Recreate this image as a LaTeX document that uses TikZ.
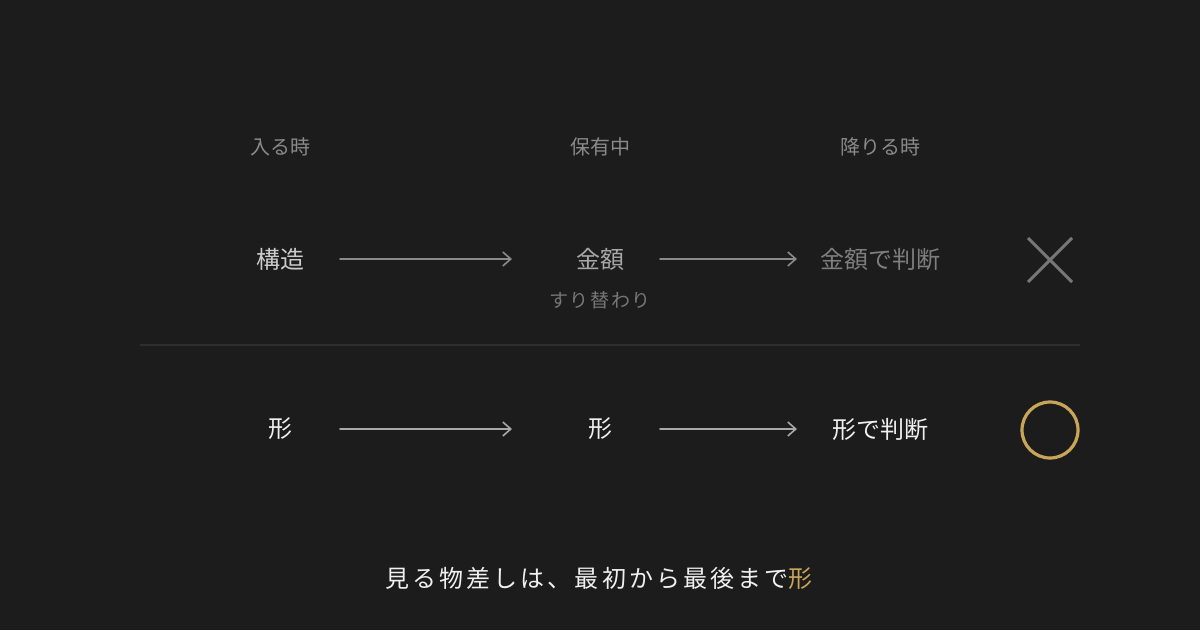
\documentclass[tikz,border=0pt]{standalone}
\usepackage{fontspec}
\setmainfont{Noto Sans CJK JP}
\usepackage{tikz}
\usetikzlibrary{positioning,backgrounds,arrows.meta}
\definecolor{sumi}{HTML}{1C1C1C}
\definecolor{haiiro}{HTML}{8A8A8A}
\definecolor{usuzumi}{HTML}{777777}
\definecolor{gin}{HTML}{A8A8A8}
\definecolor{shiro}{HTML}{F0F0F0}
\definecolor{kin}{HTML}{C9A55A}
\definecolor{sen}{HTML}{2E2E2E}

\begin{document}
\begin{tikzpicture}[x=1pt,y=-1pt]
                \tikzset{
                  moji/.style={inner sep=0pt,anchor=center,font=\fontsize{24}{28}\selectfont},
                  midashi/.style={moji,text=haiiro,font=\fontsize{20}{24}\selectfont},
                  yajirushi/.style={
                    line cap=round,-{Straight Barb[length=8pt,width=14pt,line width=1.6pt]},line width=1.6pt,
                    draw=haiiro,
                  },
                  }
                \fill[sumi] (0,0) rectangle (1200,630);
                \useasboundingbox (0,0) rectangle (1200,630);
                % headers
                \node[midashi] (h1) at (280,147) {入る時};
                \node[midashi] (h2) at (600,147) {保有中};
                \node[midashi] (h3) at (880,147) {降りる時};
                % row 1
                \node[moji, text=shiro!85!black] (kozo) at (280,259) {構造};
                \node[moji, text=gin] (kingaku) at (600,259) {金額};
                \node[moji, text=haiiro!110] (handan1) at (880,259) {金額で判断};
                \node[moji, text=usuzumi, font=\fontsize{19}{22}\selectfont\addfontfeature{LetterSpace=8}, below=21pt of kingaku] (surikawari) {すり替わり};
                \coordinate (batsu) at (1050,260);
                \draw[yajirushi] ([xshift=60]kozo.center) -- ([xshift=-88]kingaku.center);
                \draw[yajirushi] ([xshift=60]kingaku.center) -- ([xshift=-83]handan1.center);
                \draw[usuzumi, line width=3pt] ([shift={(-22,-22)}]batsu) -- ([shift={(22,22)}]batsu)
                  ([shift={(-22,22)}]batsu) -- ([shift={(22,-22)}]batsu);
                % divider
                \draw[sen, line width=2pt] (140,345) -- (1080,345);
                % row 2
                \node[moji, text=shiro] (katachi1) at (280,429) {形};
                \node[moji, text=shiro] (katachi2) at (600,429) {形};
                \node[moji, text=shiro] (handan2) at (880,429) {形で判断};
                \node[draw=kin, line width=3.2pt, circle, minimum size=56pt, inner sep=0pt] (maru) at (1050,430) {};
                \draw[yajirushi, draw=gin] ([xshift=60]katachi1.center) -- ([xshift=-88]katachi2.center);
                \draw[yajirushi, draw=gin] ([xshift=60]katachi2.center) -- ([xshift=-83]handan2.center);
                % conclusion
                \node[moji, text=shiro, font=\fontsize{24}{28}\selectfont\addfontfeature{LetterSpace=13}] (ketsuron) at (599,578) {見る物差しは、最初から最後まで\textcolor{kin}{形}};
              \end{tikzpicture}
\end{document}
